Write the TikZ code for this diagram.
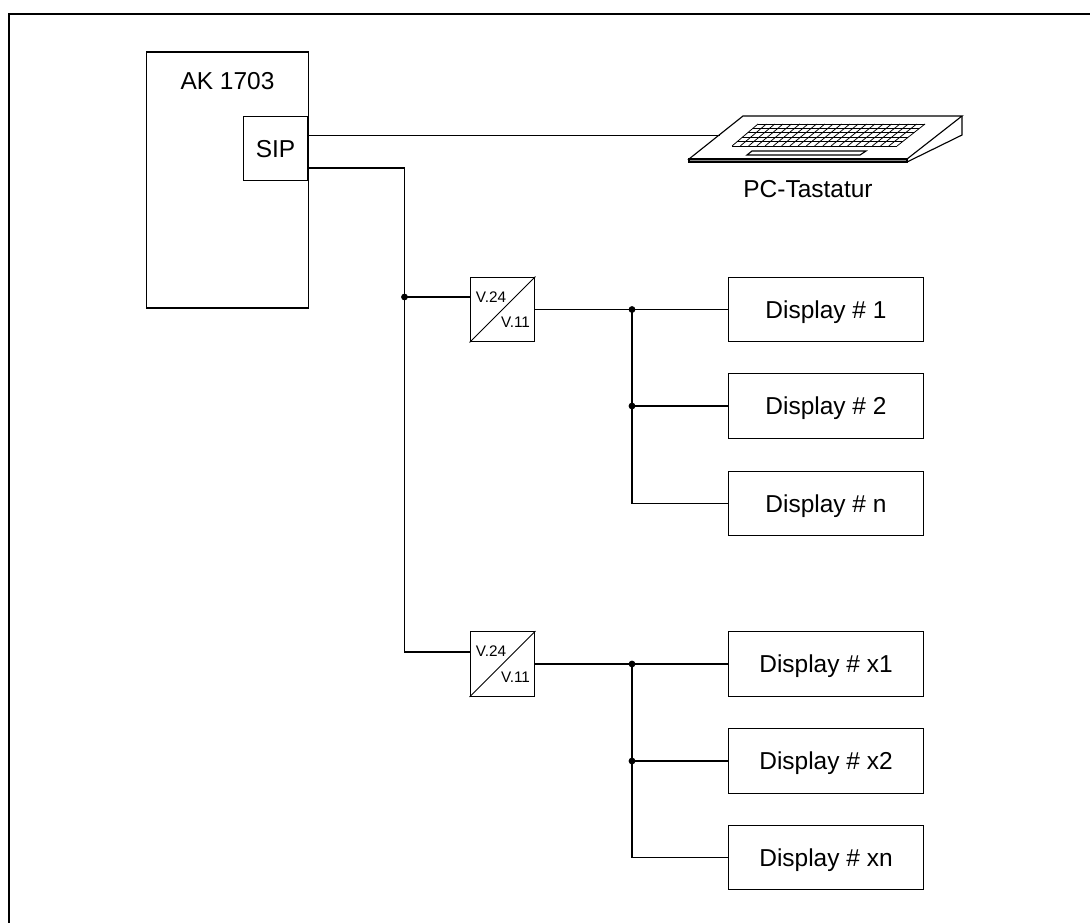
\documentclass[tikz,border=0pt]{standalone}
\usepackage{fontspec}
\setmainfont{Liberation Sans}
\tikzset{
  box/.style={draw, line width=0.8pt, rectangle, inner sep=0pt, fill=white},
  gross/.style={font=\fontsize{17.4}{20}\selectfont, inner sep=0pt, text height=12.4pt, text depth=0pt},
  klein/.style={font=\fontsize{10.9}{13}\selectfont, inner sep=0pt, text height=7.8pt, text depth=0pt},
  display/.style={box, gross, minimum width=4.86cm, minimum height=1.61cm},
  wandler/.style={box, minimum size=1.62cm},
  punkt/.style={circle, fill=black, inner sep=0pt, minimum size=0.17cm},
  linie/.style={line width=0.8pt}
}
\begin{document}
\begin{tikzpicture}[x=0.025cm,y=-0.025cm]
\useasboundingbox (0,0) rectangle (1090,923);

% -------------------------------------------------
% Rahmen
% -------------------------------------------------
\draw[line width=2pt] (1090,14) -- (9,14) -- (9,923);

% -------------------------------------------------
% AK 1703 und SIP
% -------------------------------------------------
\node[box, minimum width=4.03cm, minimum height=6.4cm] (ak) at (227.5,180) {};
\node[gross] (aktext) at (227.5,81) {AK 1703};
\node[box, gross, minimum width=1.61cm, minimum height=1.61cm] (sip) at (275.5,148.5) {SIP};

% -------------------------------------------------
% Tastatur
% -------------------------------------------------
\draw[linie, fill=white] (689,159) -- (743,116) -- (962,116) -- (907,159) -- cycle;
\draw[linie, fill=black!45] (689,159) rectangle (907,162);
\draw[linie] (962,116) -- (962,135) -- (907,162);
\foreach \r in {0,1,2,3,4,5}
  \draw[line width=0.55pt] ({758-26*\r/5},{124+22*\r/5}) -- ({925-28*\r/5},{124+22*\r/5});
\foreach \s in {0,1,...,20}
  \draw[line width=0.55pt] ({758+167*\s/20},124) -- ({732+165*\s/20},146);
\draw[linie] (752,151) -- (866,151) -- (860,155) -- (747,155) -- cycle;
\node[gross] (tastatur) at (808,188.5) {PC-Tastatur};

% -------------------------------------------------
% Wandler
% -------------------------------------------------
\foreach \n/\y in {a/309.5,b/664}{
  \node[wandler] (w\n) at (502.5,\y) {};
  \draw[line width=0.6pt] (w\n.south west) -- (w\n.north east);
  \node[klein] (w\n o) at (491,\y-12.8) {V.24};
  \node[klein] (w\n u) at (515.5,\y+12.5) {V.11};
}

% -------------------------------------------------
% Displays
% -------------------------------------------------
\node[display] (d1) at (826,309.5) {Display \# 1};
\node[display] (d2) at (826,406) {Display \# 2};
\node[display] (dn) at (826,503.5) {Display \# n};
\node[display] (dx1) at (826,664) {Display \# x1};
\node[display] (dx2) at (826,761) {Display \# x2};
\node[display] (dxn) at (826,857.5) {Display \# xn};

% -------------------------------------------------
% Leitungen
% -------------------------------------------------
\coordinate (sipa) at (sip.east |- 0,135.5);
\coordinate (sipb) at (sip.east |- 0,168);
\coordinate (tast) at (720,135.5);
\coordinate (wae) at (wa.west |- 0,297);
\coordinate (wbe) at (wb.west |- 0,652);
\node[punkt] (p0) at (404.5,297) {};
\node[punkt] (pa1) at (632,309.5) {};
\node[punkt] (pa2) at (632,406) {};
\node[punkt] (pb1) at (632,664) {};
\node[punkt] (pb2) at (632,761) {};

\draw[linie] (sipa) -- (tast);
\draw[linie] (sipb) -| (p0.center) |- (wbe);
\draw[linie] (p0.center) -- (wae);

\draw[linie] (wa.east) -- (d1.west);
\draw[linie] (pa1.center) |- (dn.west);
\draw[linie] (pa2.center) -- (d2.west);

\draw[linie] (wb.east) -- (dx1.west);
\draw[linie] (pb1.center) |- (dxn.west);
\draw[linie] (pb2.center) -- (dx2.west);

\end{tikzpicture}
\end{document}
